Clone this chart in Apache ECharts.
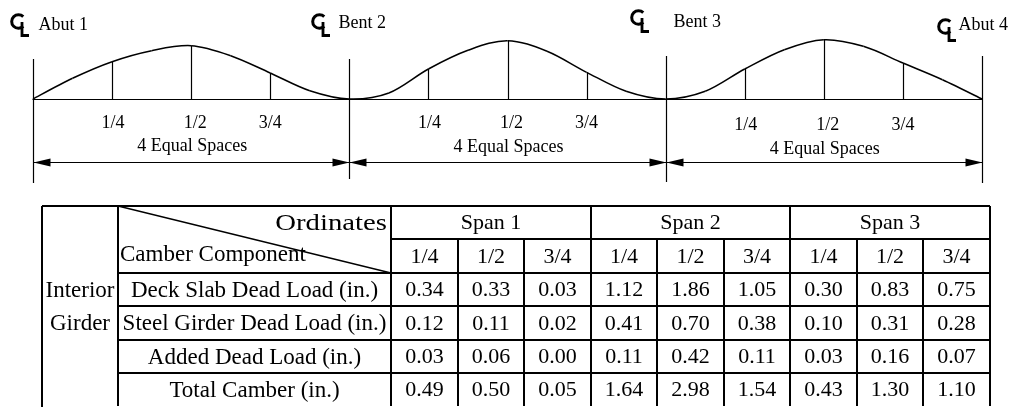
<!DOCTYPE html>
<html>
<head>
<meta charset="utf-8">
<script src="https://cdn.jsdelivr.net/npm/echarts@6/dist/echarts.min.js"></script>
<style>
  html, body { margin: 0; padding: 0; background: #fff; }
  #chart { width: 1018px; height: 407px; }
</style>
</head>
<body>
<div id="chart"></div>
<script>
// ---- elevation sketch ----
const supports = ['Abut 1', 'Bent 2', 'Bent 3', 'Abut 4'];
const spanNames = ['Span 1', 'Span 2', 'Span 3'];
const ordinateLabels = ['1/4', '1/2', '3/4'];
const spacesLabel = '4 Equal Spaces';

// sketched camber shape, read at every 1/8 of each span (drawing units)
const curveSpan1 = [0, 20.7, 37.3, 48.3, 53.3, 43.3, 26, 8.3, 0];
const curveSpan2 = [0, 6, 30, 48.7, 58.3, 47.7, 26.7, 7.7, 0];
const curveSpan3 = [0, 7.7, 30, 49.3, 59.3, 52.7, 36, 19.3, 0];

// ---- camber table ----
const groupLabel = ['Interior', 'Girder'];
const componentNames = [
  'Deck Slab Dead Load (in.)',
  'Steel Girder Dead Load (in.)',
  'Added Dead Load (in.)',
  'Total Camber (in.)'
];
const deckSlab    = [0.34, 0.33, 0.03, 1.12, 1.86, 1.05, 0.30, 0.83, 0.75];
const steelGirder = [0.12, 0.11, 0.02, 0.41, 0.70, 0.38, 0.10, 0.31, 0.28];
const addedDead   = [0.03, 0.06, 0.00, 0.11, 0.42, 0.11, 0.03, 0.16, 0.07];
const totalCamber = [0.49, 0.50, 0.05, 1.64, 2.98, 1.54, 0.43, 1.30, 1.10];

const SERIF = "'Liberation Serif', 'Times New Roman', serif";
const INK = '#000';
const DIAGRAM_FONT = 18;
const TABLE_FONT = 22;
const LABEL_FONT = 23;

// layout offsets (px) per support: line top, line bottom, CL dx, CL top, name dx, name y (from baseline)
const supportLayout = [
  [-40, 84, -23, -86, 5, -74],
  [-40, 80, -38, -86, -11, -76],
  [-43, 83, -36, -90, 7, -77],
  [-43, 84, -45, -81, -24, -74]
];
const spanLabelDy = [[24, 47], [24, 48], [26, 50]];
const ordLabelDx = [1, 4, 0];
const LABEL_COL_W = 273;
const GROUP_COL_W = 76;

function txt(text, x, y, size, align, sx) {
  align = align || 'center';
  return {
    type: 'text', x: x, y: y, scaleX: sx || 1,
    style: {
      text: text, x: 0, y: 0, fill: INK,
      font: size + 'px ' + SERIF,
      align: align, verticalAlign: 'middle',
      textAlign: align, textVerticalAlign: 'middle'
    }
  };
}
function seg(x1, y1, x2, y2, w) {
  return { type: 'line', shape: { x1: x1, y1: y1, x2: x2, y2: y2 }, style: { stroke: INK, lineWidth: w || 1.2 } };
}

const curves = [curveSpan1, curveSpan2, curveSpan3];
const curveData = [];
curves.forEach((c, s) => c.forEach((h, i) => {
  if (s > 0 && i === 0) return;
  curveData.push([s + i / 8, h]);
}));
const quarterData = [];
curves.forEach((c, s) => [1, 2, 3].forEach(q => quarterData.push([s + q / 4, c[2 * q]])));

const tableRows = [deckSlab, steelGirder, addedDead, totalCamber];
const bodyData = [];
spanNames.forEach((n, s) => bodyData.push({ value: [s * 3, 0, 3], text: n }));
spanNames.forEach((n, s) => ordinateLabels.forEach((o, q) => bodyData.push({ value: [s * 3 + q, 1, 1], text: o })));
tableRows.forEach((row, r) => row.forEach((v, c) => bodyData.push({ value: [c, r + 2, 1], text: v.toFixed(2) })));
const NCOLS = 9;

const chart = echarts.init(document.getElementById('chart'));

chart.setOption({
  animation: false,
  backgroundColor: '#fff',
  grid: [
    { left: 33, right: 36, top: 29, height: 70 },
    { left: 391, right: 28, top: 206, height: 200.4 }
  ],
  xAxis: [
    { gridIndex: 0, type: 'value', min: 0, max: 3,
      axisLine: { show: true, onZero: false, lineStyle: { color: INK, width: 1.2 } },
      axisTick: { show: false }, axisLabel: { show: false }, splitLine: { show: false } },
    { gridIndex: 1, type: 'value', min: 0, max: NCOLS, show: false, splitLine: { show: false } }
  ],
  yAxis: [
    { gridIndex: 0, type: 'value', min: 0, max: 70, show: false, splitLine: { show: false } },
    { gridIndex: 1, type: 'value', min: 0, max: 6, inverse: true, show: false, splitLine: { show: false } }
  ],
  series: [
    {
      // smooth curve through the sketched ordinates (Catmull-Rom -> bezier)
      name: 'camber', type: 'custom', xAxisIndex: 0, yAxisIndex: 0, clip: false,
      data: [[0, 0]],
      renderItem: function (params, api) {
        const pts = curveData.map(p => api.coord(p));
        const n = pts.length;
        const children = [];
        for (let i = 0; i < n - 1; i++) {
          const p0 = pts[Math.max(i - 1, 0)], p1 = pts[i], p2 = pts[i + 1], p3 = pts[Math.min(i + 2, n - 1)];
          children.push({
            type: 'bezierCurve',
            shape: {
              x1: p1[0], y1: p1[1], x2: p2[0], y2: p2[1],
              cpx1: p1[0] + (p2[0] - p0[0]) / 6, cpy1: p1[1] + (p2[1] - p0[1]) / 6,
              cpx2: p2[0] - (p3[0] - p1[0]) / 6, cpy2: p2[1] - (p3[1] - p1[1]) / 6
            },
            style: { stroke: INK, lineWidth: 1.5, fill: 'none' }
          });
        }
        return { type: 'group', children: children };
      }
    },
    {
      name: 'quarters', type: 'custom', xAxisIndex: 0, yAxisIndex: 0, clip: false,
      data: quarterData,
      renderItem: function (params, api) {
        const p0 = api.coord([api.value(0), 0]);
        const p1 = api.coord([api.value(0), api.value(1)]);
        return seg(Math.round(p0[0]) + 0.5, p0[1], Math.round(p1[0]) + 0.5, p1[1]);
      }
    },
    {
      name: 'supports', type: 'custom', xAxisIndex: 0, yAxisIndex: 0, clip: false,
      data: supports.map((s, i) => [i, 0]),
      renderItem: function (params, api) {
        const i = params.dataIndex;
        const L = supportLayout[i];
        const p = api.coord([api.value(0), 0]);
        const x = Math.round(p[0]) + 0.5, y = p[1];
        const cx = x + L[2], cy = y + L[3];
        return {
          type: 'group',
          children: [
            seg(x, y + L[0], x, y + L[1]),
            { type: 'arc', shape: { cx: cx + 8, cy: cy + 8.5, r: 6.8, startAngle: 0.8, endAngle: Math.PI * 2 - 0.8, clockwise: true },
              style: { stroke: INK, lineWidth: 3, fill: 'none' } },
            { type: 'polyline', shape: { points: [[cx + 11.5, cy + 9], [cx + 11.5, cy + 22.5], [cx + 18.5, cy + 22.5]] },
              style: { stroke: INK, lineWidth: 2.8, fill: 'none', lineJoin: 'miter' } },
            txt(supports[i], x + L[4], y + L[5], DIAGRAM_FONT, 'left')
          ]
        };
      }
    },
    {
      name: 'dimensions', type: 'custom', xAxisIndex: 0, yAxisIndex: 0, clip: false,
      data: spanNames.map((s, i) => [i, 0]),
      renderItem: function (params, api) {
        const s = api.value(0);
        const dy = spanLabelDy[params.dataIndex];
        const a = api.coord([s, 0]);
        const b = api.coord([s + 1, 0]);
        const m = api.coord([s + 0.5, 0]);
        const children = [];
        ordinateLabels.forEach((o, q) => {
          const p = api.coord([s + (q + 1) / 4, 0]);
          children.push(txt(o, p[0] + ordLabelDx[q], p[1] + dy[0], DIAGRAM_FONT));
        });
        children.push(txt(spacesLabel, m[0] + 1, m[1] + dy[1], DIAGRAM_FONT));
        const ay = Math.round(a[1] + 63) + 0.5;
        const x1 = Math.round(a[0]) + 0.5, x2 = Math.round(b[0]) + 0.5;
        children.push(seg(x1, ay, x2, ay));
        children.push({ type: 'polygon', shape: { points: [[x1, ay], [x1 + 17, ay - 4], [x1 + 17, ay + 4]] }, style: { fill: INK } });
        children.push({ type: 'polygon', shape: { points: [[x2, ay], [x2 - 17, ay - 4], [x2 - 17, ay + 4]] }, style: { fill: INK } });
        return { type: 'group', children: children };
      }
    },
    {
      name: 'tableBody', type: 'custom', xAxisIndex: 1, yAxisIndex: 1, clip: false,
      data: bodyData,
      renderItem: function (params, api) {
        const c = api.value(0), r = api.value(1), w = api.value(2);
        const tl = api.coord([c, r]).map(Math.round);
        const br = api.coord([c + w, r + 1]).map(Math.round);
        const children = [
          seg(tl[0], tl[1], br[0], tl[1], 2),
          seg(tl[0], tl[1], tl[0], br[1], 2)
        ];
        if (c + w === NCOLS) children.push(seg(br[0], tl[1], br[0], br[1], 2));
        children.push(txt(bodyData[params.dataIndex].text, (tl[0] + br[0]) / 2, (tl[1] + br[1]) / 2 + 1, TABLE_FONT));
        return { type: 'group', children: children };
      }
    },
    {
      name: 'componentLabels', type: 'custom', xAxisIndex: 1, yAxisIndex: 1, clip: false,
      data: componentNames.map((n, i) => [0, i + 2]),
      renderItem: function (params, api) {
        const r = api.value(1);
        const tl = api.coord([0, r]).map(Math.round);
        const bl = api.coord([0, r + 1]).map(Math.round);
        const left = tl[0] - LABEL_COL_W;
        return { type: 'group', children: [
          seg(left, tl[1], tl[0], tl[1], 2),
          seg(left, tl[1], left, bl[1], 2),
          txt(componentNames[params.dataIndex], (left + tl[0]) / 2, (tl[1] + bl[1]) / 2 + 1, LABEL_FONT)
        ] };
      }
    },
    {
      name: 'corner', type: 'custom', xAxisIndex: 1, yAxisIndex: 1, clip: false,
      data: [[0, 0]],
      renderItem: function (params, api) {
        const t = api.coord([0, 0]).map(Math.round);
        const mid = api.coord([0, 1]).map(Math.round);
        const b = api.coord([0, 2]).map(Math.round);
        const left = t[0] - LABEL_COL_W;
        return { type: 'group', children: [
          seg(left, t[1], t[0], t[1], 2),
          seg(left, t[1], left, b[1], 2),
          seg(left, t[1], t[0], b[1], 1.3),
          txt('Ordinates', t[0] - 4, (t[1] + mid[1]) / 2 + 1, LABEL_FONT, 'right', 1.25),
          txt('Camber Component', left + 2, (mid[1] + b[1]) / 2 - 1, LABEL_FONT, 'left')
        ] };
      }
    },
    {
      name: 'group', type: 'custom', xAxisIndex: 1, yAxisIndex: 1, clip: false,
      data: [[0, 0]],
      renderItem: function (params, api) {
        const t = api.coord([0, 0]).map(Math.round);
        const b = api.coord([0, 6]).map(Math.round);
        const right = t[0] - LABEL_COL_W;
        const left = right - GROUP_COL_W;
        const children = [
          seg(left, t[1], right, t[1], 2),
          seg(left, t[1], left, b[1] + 2, 2)
        ];
        groupLabel.forEach((g, k) => {
          const a = api.coord([0, k + 2]), z = api.coord([0, k + 3]);
          children.push(txt(g, (left + right) / 2, (a[1] + z[1]) / 2 + 1, LABEL_FONT));
        });
        return { type: 'group', children: children };
      }
    }
  ]
});
</script>
</body>
</html>
